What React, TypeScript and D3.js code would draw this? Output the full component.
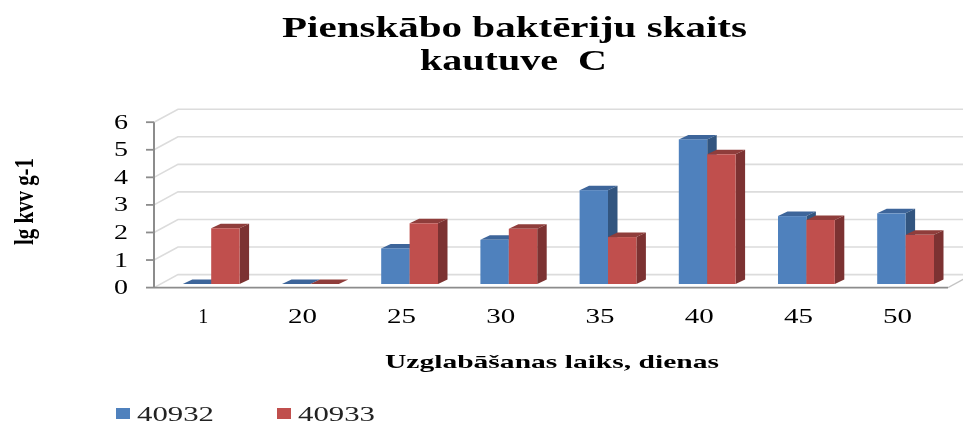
import React from "react";
import * as d3 from "d3";

const categories = ["1", "20", "25", "30", "35", "40", "45", "50"];
const series40932 = [0, 0, 1.29, 1.6, 3.4, 5.24, 2.46, 2.56];
const series40933 = [2.02, 0, 2.2, 2.0, 1.7, 4.7, 2.32, 1.78];
const yTicks = [0, 1, 2, 3, 4, 5, 6];
const seriesNames = ["40932", "40933"];
const seriesColors = [
  { front: "#4F81BD", top: "#3D659A", side: "#32557F" },
  { front: "#C0504D", top: "#8F3C3A", side: "#7C3230" },
];
const titleLines = ["Pienskābo baktēriju skaits", "kautuve  C"];
const yTitle = "lg kvv g-1";
const xTitle = "Uzglabāšanas laiks, dienas";

const W = 963, H = 424;
const font = "'Liberation Serif', 'Times New Roman', serif";
// Front plane of the bars
const x = d3.scaleBand<string>().domain(categories).range([161.6, 955.2]);
const y = d3.scaleLinear().domain([0, 6]).range([284, 118.4]);
// Front plane of the axes
const yFront = d3.scaleLinear().domain([0, 6]).range([287.6, 122.2]);
const wallDx = 24, wallDy = -13;
const barDx = 9.5, barDy = -4.5;
const barW = 28.4;
const axisX = 154;
const rightFront = 948;

const pts = (p: number[][]) => p.map((a) => a.join(",")).join(" ");

function Bar({ x0, v, c }: { x0: number; v: number; c: (typeof seriesColors)[0] }) {
  const yt = y(v), yb = y(0), x1 = x0 + barW;
  return (
    <g>
      <polygon points={pts([[x0, yt], [x0 + barDx, yt + barDy], [x1 + barDx, yt + barDy], [x1, yt]])} fill={c.top} />
      {v > 0 && (
        <>
          <polygon points={pts([[x1, yt], [x1 + barDx, yt + barDy], [x1 + barDx, yb + barDy], [x1, yb]])} fill={c.side} />
          <rect x={x0} y={yt} width={barW} height={yb - yt} fill={c.front} />
        </>
      )}
    </g>
  );
}

function Label(p: { x: number; y: number; w: number; size: number; bold?: boolean; children: string; fill?: string; transform?: string }) {
  return (
    <text x={p.x} y={p.y} textLength={p.w} lengthAdjust="spacingAndGlyphs" fontFamily={font} fontSize={p.size}
      fontWeight={p.bold ? "bold" : "normal"} fill={p.fill ?? "#000"} transform={p.transform} xmlSpace="preserve">
      {p.children}
    </text>
  );
}

export default function App() {
  return (
    <svg width={W} height={H} viewBox={`0 0 ${W} ${H}`}
      style={{ position: "absolute", left: 0, top: 0, background: "#fff" }}>
      <defs>
        <filter id="soft" x="-5%" y="-5%" width="110%" height="110%">
          <feGaussianBlur stdDeviation="0.45" />
        </filter>
      </defs>
      <g filter="url(#soft)">
        {yTicks.map((t) => (
          <polyline key={t} fill="none" stroke="#DCDCDC" strokeWidth={1.6}
            points={pts([[axisX, yFront(t)], [axisX + wallDx, yFront(t) + wallDy], [t === 0 ? rightFront + wallDx * 0.65 : W, yFront(t) + wallDy]])} />
        ))}
        <polyline fill="none" stroke="#C4C4C4" strokeWidth={1.2}
          points={pts([[rightFront, yFront(0)], [rightFront + wallDx * 0.65, yFront(0) + wallDy * 0.65]])} />
        <line x1={axisX} x2={rightFront} y1={yFront(0)} y2={yFront(0)} stroke="#8C8C8C" strokeWidth={1.8} />
        <line x1={axisX} x2={axisX} y1={yFront(6)} y2={yFront(0)} stroke="#8C8C8C" strokeWidth={2} />
        {yTicks.map((t) => (
          <line key={t} x1={axisX - 8} x2={axisX} y1={yFront(t)} y2={yFront(t)} stroke="#8C8C8C" strokeWidth={1.8} />
        ))}
        {categories.map((cat, i) => {
          const cx = x(cat)! + x.bandwidth() / 2;
          return (
            <g key={cat}>
              <Bar x0={cx - barW} v={series40932[i]} c={seriesColors[0]} />
              <Bar x0={cx} v={series40933[i]} c={seriesColors[1]} />
            </g>
          );
        })}
        <Label x={282} y={37} w={465} size={30} bold>{titleLines[0]}</Label>
        <Label x={420} y={70} w={187} size={30} bold>{titleLines[1]}</Label>
        {yTicks.map((t) => (
          <Label key={t} x={114} y={yFront(t) + 6.5} w={14} size={20}>{String(t)}</Label>
        ))}
        {categories.map((cat) => {
          const cx = x(cat)! + x.bandwidth() / 2;
          const w = cat.length === 1 ? 10 : 29;
          return <Label key={cat} x={cx - 8 - w / 2} y={323} w={w} size={20}>{cat}</Label>;
        })}
        <Label x={385} y={368} w={334} size={19} bold>{xTitle}</Label>
        <Label x={0} y={0} w={87} size={27} bold transform="translate(33,245) rotate(-90)">{yTitle}</Label>
        {seriesNames.map((name, i) => {
          const lx = [116, 277][i];
          return (
            <g key={name}>
              <rect x={lx} y={408} width={14} height={11} fill={seriesColors[i].front} />
              <Label x={lx + 21} y={420.5} w={77} size={20} fill="#222">{name}</Label>
            </g>
          );
        })}
      </g>
    </svg>
  );
}
